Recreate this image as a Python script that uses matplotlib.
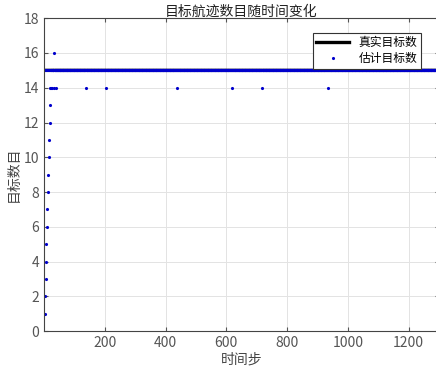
import matplotlib
matplotlib.use('Agg')
import matplotlib.pyplot as plt
import numpy as np

plt.rcParams['font.family'] = ['Noto Sans CJK SC', 'DejaVu Sans']
plt.rcParams['axes.unicode_minus'] = False

# 数据
n_steps = 1300
true_count = 15
# 估计目标数中偏离 15 的时间步与取值
odd_t = [3, 4, 5, 6, 7, 9, 11, 12, 13, 15, 17, 18, 19, 20, 22, 32, 27, 33, 38, 137, 203, 436, 617, 717, 933]
odd_n = [1, 2, 3, 4, 5, 6, 7, 8, 9, 10, 11, 12, 13, 14, 14, 16, 14, 14, 14, 14, 14, 14, 14, 14, 14]

xticks = [200, 400, 600, 800, 1000, 1200]
yticks = [0, 2, 4, 6, 8, 10, 12, 14, 16, 18]

steps = np.arange(1, n_steps + 1)
est = np.full(n_steps, float(true_count))
for t, n in zip(odd_t, odd_n):
    est[t - 1] = n
true = np.full(n_steps, float(true_count))

fig = plt.figure(figsize=(4.36, 3.72), dpi=100)
ax = fig.add_axes([0.101, 0.110, 0.906, 0.841])

ax.plot(steps, true, color='black', lw=2.4, label='真实目标数')
ax.plot(steps, est, '.', color='#0000cc', ms=2.5, label='估计目标数')

ax.set_xlim(0, n_steps)
ax.set_ylim(0, 18)
ax.set_xticks(xticks)
ax.set_yticks(yticks)
ax.grid(True, color='#e3e3e3', lw=0.7)
ax.set_axisbelow(True)
ax.tick_params(direction='in', labelsize=10, colors='#555555', length=3,
               top=True, right=True)
for s in ax.spines.values():
    s.set_color('#444444')
    s.set_linewidth(0.8)

ax.set_title('目标航迹数目随时间变化', fontsize=10, color='#222222', pad=2)
ax.set_xlabel('时间步', fontsize=10, color='#444444', labelpad=2)
ax.set_ylabel('目标数目', fontsize=10, color='#444444', labelpad=2)

leg = ax.legend(loc='upper right', bbox_to_anchor=(427 / 436, 1 - 27 / 372),
                bbox_transform=fig.transFigure, fontsize=8.5, fancybox=False,
                framealpha=1, edgecolor='#333333', handlelength=2.8,
                borderpad=0.3, labelspacing=0.25, markerscale=1.0)
leg.get_frame().set_linewidth(0.8)

fig.savefig('out.png', dpi=100)
